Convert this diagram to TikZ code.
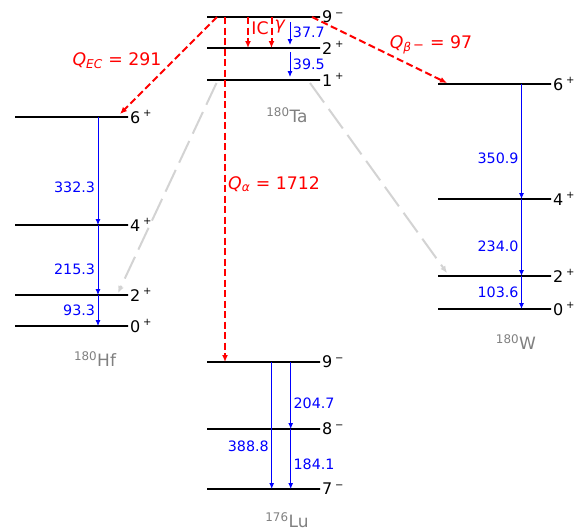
\documentclass[tikz,border=0pt]{standalone}
\usepackage{fontspec}
\setmainfont{DejaVu Sans}
\usetikzlibrary{arrows.meta,positioning}
\definecolor{decayRed}{RGB}{255,0,0}
\definecolor{gammaBlue}{RGB}{0,0,255}
\definecolor{nucGray}{RGB}{128,128,128}
\definecolor{branchGray}{RGB}{211,211,211}
\newcommand{\spinpar}[2]{#1\,\raisebox{6.3pt}{\fontsize{10}{10}\selectfont #2}}
\tikzset{
  levelline/.style={rectangle, draw=black, line width=2pt, minimum width=113pt,
    minimum height=0pt, inner sep=0pt, outer sep=0pt},
  spinlabel/.style={font=\fontsize{16}{18}\selectfont, inner sep=0pt},
  nuclabel/.style={text=nucGray, font=\fontsize{17}{20}\selectfont, inner sep=0pt},
  qlabel/.style={text=decayRed, font=\fontsize{17.3}{20}\selectfont, inner sep=0pt},
  elabel/.style={text=gammaBlue, font=\fontsize{14.3}{17}\selectfont, inner sep=2.5pt},
  gammaarrow/.style={-{Latex[length=6pt,width=5pt]}, draw=gammaBlue, line width=0.9pt},
  decayarrow/.style={-{Latex[length=7pt,width=6pt]}, draw=decayRed, line width=2pt,
    dash pattern=on 7pt off 3.5pt},
  brancharrow/.style={-{Latex[length=7pt,width=6pt]}, draw=branchGray, line width=2pt,
    dash pattern=on 24pt off 8pt},
}

\begin{document}
\begin{tikzpicture}[x=1pt,y=-1pt]
  \useasboundingbox (0,0) rectangle (583,531);

  % 180Ta
  \node[levelline] (ta9) at (263.5,17) {};
  \node[levelline] (ta2) at (263.5,48) {};
  \node[levelline] (ta1) at (263.5,80) {};
  \node[spinlabel, right=2pt of ta9] (ta9s) {\spinpar{9}{−}};
  \node[spinlabel, right=2pt of ta2] (ta2s) {\spinpar{2}{+}};
  \node[spinlabel, right=2pt of ta1] (ta1s) {\spinpar{1}{+}};
  \node[nuclabel] (taname) at (287,115) {\textsuperscript{180}Ta};

  % 180Hf
  \node[levelline] (hf6) at (71.5,117) {};
  \node[levelline] (hf4) at (71.5,225) {};
  \node[levelline] (hf2) at (71.5,295) {};
  \node[levelline] (hf0) at (71.5,326) {};
  \node[spinlabel, right=2pt of hf6] (hf6s) {\spinpar{6}{+}};
  \node[spinlabel, right=2pt of hf4] (hf4s) {\spinpar{4}{+}};
  \node[spinlabel, right=2pt of hf2] (hf2s) {\spinpar{2}{+}};
  \node[spinlabel, right=2pt of hf0] (hf0s) {\spinpar{0}{+}};
  \node[nuclabel] (hfname) at (95,359) {\textsuperscript{180}Hf};

  % 180W
  \node[levelline] (w6) at (494.5,84) {};
  \node[levelline] (w4) at (494.5,199) {};
  \node[levelline] (w2) at (494.5,276) {};
  \node[levelline] (w0) at (494.5,309) {};
  \node[spinlabel, right=2pt of w6] (w6s) {\spinpar{6}{+}};
  \node[spinlabel, right=2pt of w4] (w4s) {\spinpar{4}{+}};
  \node[spinlabel, right=2pt of w2] (w2s) {\spinpar{2}{+}};
  \node[spinlabel, right=2pt of w0] (w0s) {\spinpar{0}{+}};
  \node[nuclabel] (wname) at (516,342) {\textsuperscript{180}W};

  % 176Lu
  \node[levelline] (lu9) at (263.5,362) {};
  \node[levelline] (lu8) at (263.5,429) {};
  \node[levelline] (lu7) at (263.5,489) {};
  \node[spinlabel, right=2pt of lu9] (lu9s) {\spinpar{9}{−}};
  \node[spinlabel, right=2pt of lu8] (lu8s) {\spinpar{8}{−}};
  \node[spinlabel, right=2pt of lu7] (lu7s) {\spinpar{7}{−}};
  \node[nuclabel] (luname) at (287,520) {\textsuperscript{176}Lu};

  % branches out of 180Ta
  \draw[brancharrow] ([xshift=-47pt,yshift=-3pt]ta1.center) -- ([xshift=46.5pt,yshift=2pt]hf2.center);
  \draw[brancharrow] ([xshift=46.5pt,yshift=-3pt]ta1.center) -- ([xshift=-47.5pt,yshift=3pt]w2.center);
  \draw[decayarrow] ([xshift=-46.5pt]ta9.center) -- ([xshift=48.5pt,yshift=3pt]hf6.center);
  \draw[decayarrow] ([xshift=48.5pt]ta9.center) -- ([xshift=-47.5pt,yshift=1pt]w6.center);
  \draw[decayarrow] ([xshift=-38.5pt]ta9.center) -- ([xshift=-38.5pt]lu9.center);
  \draw[decayarrow] ([xshift=-15.5pt]ta9.center) -- ([xshift=-15.5pt]ta2.center);
  \draw[decayarrow] ([xshift=8pt]ta9.center) -- ([xshift=8pt]ta2.center);
  \node[qlabel] (qec) at (117,61) {\textit{Q}\textsubscript{\textit{EC}} = 291};
  \node[qlabel] (qbeta) at (431,45) {\textit{Q}\textsubscript{\textit{β}\,\raisebox{2.5pt}{\fontsize{13}{13}\selectfont −}} = 97};
  \node[qlabel] (qalpha) at (274,184) {\textit{Q}\textsubscript{\textit{α}} = 1712};
  \node[qlabel] (ic) at (260,28) {IC};
  \node[qlabel] (gam) at (280,27) {\textit{γ}};

  % gamma transitions
  \draw[gammaarrow, shorten <=5pt, shorten >=3pt] ([xshift=26.5pt]ta9.center) -- node[elabel, right, pos=0.5] {37.7} ([xshift=26.5pt]ta2.center);
  \draw[gammaarrow, shorten <=4pt, shorten >=3pt] ([xshift=26.5pt]ta2.center) -- node[elabel, right, pos=0.5] {39.5} ([xshift=26.5pt]ta1.center);

  \draw[gammaarrow] ([xshift=26.5pt]hf6.center) -- node[elabel, left, pos=0.65] {332.3} ([xshift=26.5pt]hf4.center);
  \draw[gammaarrow] ([xshift=26.5pt]hf4.center) -- node[elabel, left, pos=0.63] {215.3} ([xshift=26.5pt]hf2.center);
  \draw[gammaarrow] ([xshift=26.5pt]hf2.center) -- node[elabel, left, pos=0.5] {93.3} ([xshift=26.5pt]hf0.center);

  \draw[gammaarrow] ([xshift=27pt]w6.center) -- node[elabel, left, pos=0.65] {350.9} ([xshift=27pt]w4.center);
  \draw[gammaarrow] ([xshift=27pt]w4.center) -- node[elabel, left, pos=0.62] {234.0} ([xshift=27pt]w2.center);
  \draw[gammaarrow] ([xshift=27pt]w2.center) -- node[elabel, left, pos=0.5] {103.6} ([xshift=27pt]w0.center);

  \draw[gammaarrow] ([xshift=8.2pt]lu9.center) -- node[elabel, left, pos=0.66] {388.8} ([xshift=8.2pt]lu7.center);
  \draw[gammaarrow] ([xshift=27.2pt]lu9.center) -- node[elabel, right, pos=0.61] {204.7} ([xshift=27.2pt]lu8.center);
  \draw[gammaarrow] ([xshift=27.2pt]lu8.center) -- node[elabel, right, pos=0.58] {184.1} ([xshift=27.2pt]lu7.center);
\end{tikzpicture}
\end{document}
